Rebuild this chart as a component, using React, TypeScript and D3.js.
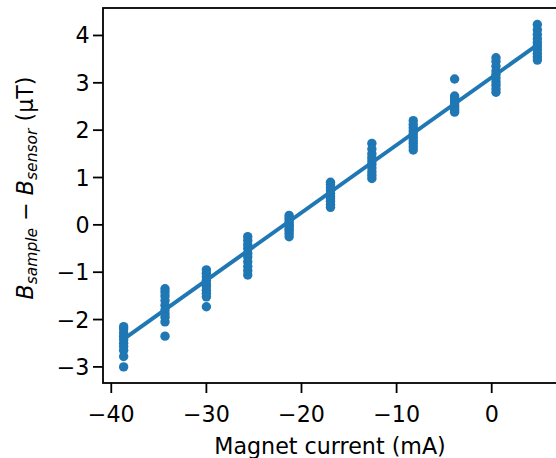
import React from "react";
import * as d3 from "d3";

const currents = [-38.7, -34.35, -30.0, -25.65, -21.3, -16.95, -12.6, -8.25, -3.9, 0.45, 4.8];
const fieldDiffs: number[][] = [
  [-2.15, -2.2, -2.28, -2.35, -2.42, -2.5, -2.57, -2.65, -2.78, -3.0],
  [-1.35, -1.42, -1.5, -1.6, -1.7, -1.8, -1.88, -1.95, -2.05, -2.35],
  [-0.95, -1.02, -1.1, -1.17, -1.25, -1.3, -1.38, -1.45, -1.52, -1.73],
  [-0.25, -0.33, -0.42, -0.5, -0.6, -0.68, -0.78, -0.88, -0.97, -1.06],
  [0.2, 0.15, 0.1, 0.05, 0.0, -0.03, -0.08, -0.12, -0.18, -0.25],
  [0.9, 0.85, 0.78, 0.72, 0.66, 0.6, 0.55, 0.5, 0.43, 0.37],
  [1.72, 1.6, 1.5, 1.42, 1.35, 1.28, 1.2, 1.12, 1.05, 0.98],
  [2.2, 2.12, 2.05, 1.98, 1.92, 1.85, 1.78, 1.72, 1.65, 1.58],
  [3.08, 2.72, 2.68, 2.62, 2.58, 2.53, 2.5, 2.46, 2.42, 2.38],
  [3.53, 3.45, 3.35, 3.25, 3.18, 3.1, 3.02, 2.95, 2.87, 2.8],
  [4.23, 4.12, 4.02, 3.93, 3.85, 3.78, 3.7, 3.62, 3.55, 3.48],
];
const xTicks = [-40, -30, -20, -10, 0];
const yTicks = [-3, -2, -1, 0, 1, 2, 3, 4];
const fitSlope = 0.1428;
const fitIntercept = 3.115;

const W = 556, H = 458;
const left = 103, right = 558, top = 8, bottom = 383;
const color = "#1f77b4";
const font = "DejaVu Sans, sans-serif";
const fs = 22.2;
const subFs = 15.5;

export default function App() {
  const x = d3.scaleLinear().domain([-40.87, 6.97]).range([left, right]);
  const y = d3.scaleLinear().domain([-3.34, 4.58]).range([bottom, top]);
  const pts = currents.flatMap((c, i) => fieldDiffs[i].map((v) => [c, v] as [number, number]));
  const xs = [currents[0], currents[currents.length - 1]];
  const line = d3.line<number>().x((d) => x(d)).y((d) => y(fitSlope * d + fitIntercept));
  return (
    <svg width={W} height={H} style={{ position: "absolute", left: 0, top: 0 }} fontFamily={font}>
      <rect x={0} y={0} width={W} height={H} fill="white" />
      {pts.map((p, i) => (
        <circle key={i} cx={x(p[0])} cy={y(p[1])} r={4.7} fill={color} />
      ))}
      <path d={line(xs) || ""} stroke={color} strokeWidth={4} fill="none" />
      <rect x={left} y={top} width={right - left} height={bottom - top} fill="none" stroke="black" strokeWidth={1.8} />
      {xTicks.map((t) => (
        <g key={t} transform={`translate(${x(t)},${bottom})`}>
          <line y1={0} y2={10} stroke="black" strokeWidth={1.8} />
          <text y={39} textAnchor="middle" fontSize={fs}>{t < 0 ? "\u2212" + Math.abs(t) : t}</text>
        </g>
      ))}
      {yTicks.map((t) => (
        <g key={t} transform={`translate(${left},${y(t)})`}>
          <line x1={0} x2={-10} stroke="black" strokeWidth={1.8} />
          <text x={-13.5} dy="0.36em" textAnchor="end" fontSize={fs}>{t < 0 ? "\u2212" + Math.abs(t) : t}</text>
        </g>
      ))}
      <text x={330} y={454} textAnchor="middle" fontSize={fs}>Magnet current (mA)</text>
      <text transform={`translate(33,188) rotate(-90)`} textAnchor="middle" fontSize={fs}>
        <tspan fontStyle="italic">B</tspan>
        <tspan fontStyle="italic" fontSize={subFs} dy={4}>sample</tspan>
        <tspan dy={-4}> − </tspan>
        <tspan fontStyle="italic">B</tspan>
        <tspan fontStyle="italic" fontSize={subFs} dy={4}>sensor</tspan>
        <tspan dy={-4}> (μT)</tspan>
      </text>
    </svg>
  );
}
